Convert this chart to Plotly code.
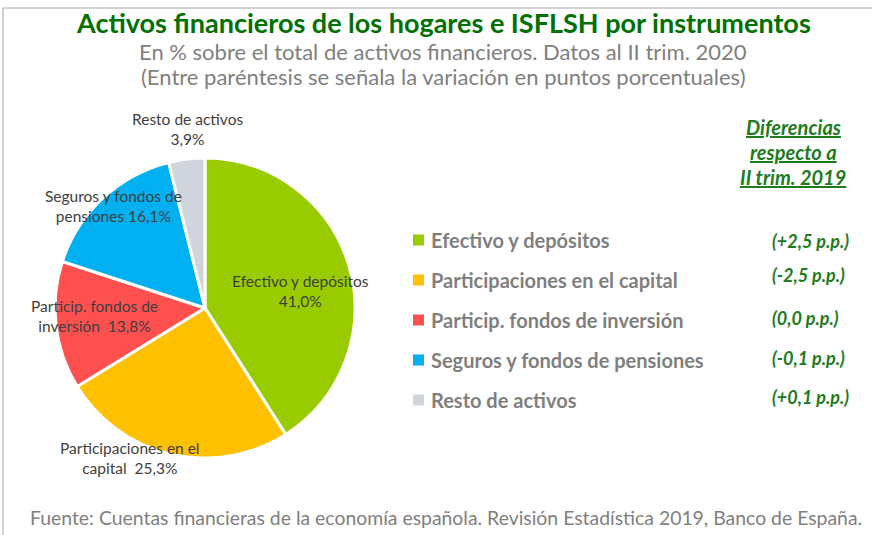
import plotly.graph_objects as go

categories = ["Efectivo y depósitos", "Participaciones en el capital",
              "Particip. fondos de inversión", "Seguros y fondos de pensiones",
              "Resto de activos"]
shares = [41.0, 25.3, 13.8, 16.1, 3.9]
changes = ["(+2,5 p.p.)", "(-2,5 p.p.)", "(0,0 p.p.)", "(-0,1 p.p.)", "(+0,1 p.p.)"]
pie_labels = ["Efectivo y depósitos<br>41,0%", "Participaciones en el<br>capital  25,3%",
              "Particip. fondos de<br>inversión  13,8%", "Seguros y fondos de<br>pensiones 16,1%",
              "Resto de activos<br>3,9%"]
colors = ["#99CC00", "#FFC000", "#FF5050", "#00B0F0", "#D0D5DD"]

W, H = 872, 535
def px(x): return x / W
def py(y): return 1 - y / H

fig = go.Figure()
fig.add_trace(go.Pie(
    labels=categories, values=shares, sort=False, direction="clockwise", rotation=0,
    marker=dict(colors=colors, line=dict(color="white", width=3)),
    textinfo="none", hoverinfo="label+percent", showlegend=False,
    domain=dict(x=[px(55), px(355)], y=[py(458), py(158)]),
))

ann = []
def add_text(x, y, text, size, color, xanchor="center", align="center"):
    ann.append(dict(x=px(x), y=py(y), xref="paper", yref="paper", text=text, showarrow=False,
                    xanchor=xanchor, yanchor="middle", align=align,
                    font=dict(family="Lato", size=size, color=color)))

# pie labels
label_pos = [(300, 291), (130, 458), (94, 316), (113, 206), (187, 129)]
for t, (x, y) in zip(pie_labels, label_pos):
    add_text(x, y, t, 15.5, "#404040")

# legend
leg_y = [240, 280, 320, 360, 400]
diff_y = [241, 275, 318, 358, 397]
shapes = []
for c, lab, ch, y, dy in zip(colors, categories, changes, leg_y, diff_y):
    shapes.append(dict(type="rect", xref="paper", yref="paper", x0=px(413), x1=px(424),
                       y0=py(y + 5.5), y1=py(y - 5.5), fillcolor=c, line=dict(width=0)))
    add_text(429, y, "<b>" + lab + "</b>", 20, "#7F7F7F", xanchor="left")
    add_text(770, dy, "<b><i>" + ch + "</i></b>", 18, "#1E7B1E", xanchor="left")

# header of differences column
for t, y in zip(["Diferencias", "respecto a", "II trim. 2019"], [127, 152, 177]):
    add_text(793, y, "<b><i><u>" + t + "</u></i></b>", 20, "#1E7B1E")

# titles
add_text(443, 22, "<b>Activos financieros de los hogares e ISFLSH por instrumentos</b>", 27, "#007000")
add_text(443, 51, "En % sobre el total de activos financieros. Datos al II trim. 2020", 22, "#7F7F7F")
add_text(443, 76, "(Entre paréntesis se señala la variación en puntos porcentuales)", 22, "#7F7F7F")
add_text(28, 517, "Fuente: Cuentas financieras de la economía española. Revisión Estadística 2019, Banco de España.",
         19.4, "#7F7F7F", xanchor="left")

shapes.append(dict(type="rect", xref="paper", yref="paper", x0=px(3), x1=1.02,
                   y0=-0.02, y1=py(8), line=dict(color="#A6A6A6", width=1)))

fig.update_layout(width=W, height=H, margin=dict(l=0, r=0, t=0, b=0),
                  paper_bgcolor="white", plot_bgcolor="white",
                  annotations=ann, shapes=shapes, showlegend=False)
fig.write_html("out.html", config={"displayModeBar": False},
               post_script="document.body.style.margin='0';")
